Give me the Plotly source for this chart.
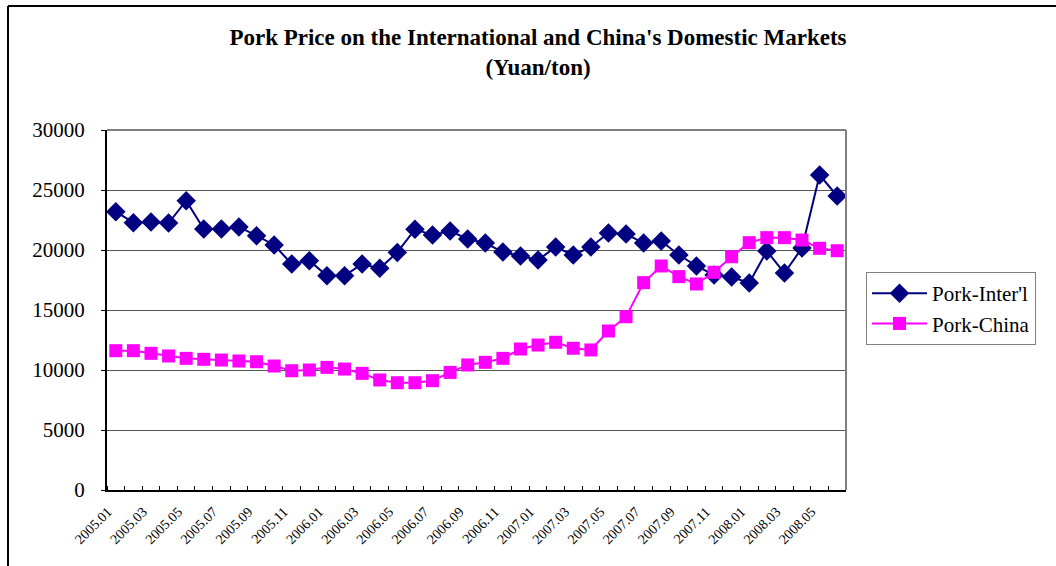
import plotly.graph_objects as go

months = [f"{y}.{m:02d}" for y in (2005, 2006, 2007) for m in range(1, 13)] + [f"2008.{m:02d}" for m in range(1, 7)]

pork_intl = [23190, 22280, 22330, 22250, 24110, 21750, 21750, 21920, 21190, 20420,
             18830, 19110, 17860, 17860, 18830, 18470, 19800, 21720, 21250, 21580,
             20920, 20580, 19830, 19500, 19170, 20250, 19580, 20250, 21420, 21330,
             20580, 20750, 19580, 18670, 17920, 17750, 17250, 19920, 18080, 20170,
             26250, 24500]

pork_china = [11610, 11610, 11390, 11170, 10970, 10890, 10830, 10750, 10690, 10330,
              9940, 10000, 10220, 10080, 9720, 9170, 8940, 8940, 9110, 9800,
              10420, 10640, 10970, 11750, 12080, 12310, 11810, 11670, 13250, 14440,
              17280, 18670, 17780, 17170, 18140, 19440, 20610, 21030, 21030, 20830,
              20140, 19940]

y_ticks = [0, 5000, 10000, 15000, 20000, 25000, 30000]

idx = list(range(len(months)))
font = "Liberation Serif, Times New Roman, serif"

fig = go.Figure()
fig.add_trace(go.Scatter(
    x=idx, y=pork_intl, name="Pork-Inter'l", mode="lines+markers",
    line=dict(color="#000080", width=2),
    marker=dict(symbol="diamond", size=15, color="#000080"),
))
fig.add_trace(go.Scatter(
    x=idx, y=pork_china, name="Pork-China", mode="lines+markers",
    line=dict(color="#FF00FF", width=2),
    marker=dict(symbol="square", size=13, color="#FF00FF"),
))

L, R, T, B = 107, 846, 130, 490
W, H = 1056, 566
pw, ph = R - L, B - T

fig.update_layout(
    width=W, height=H,
    margin=dict(l=L, r=W - R, t=T, b=H - B),
    paper_bgcolor="white", plot_bgcolor="white",
    font=dict(family=font, color="black"),
    title=dict(
        text="<b>Pork Price on the International and China's Domestic Markets</b><br><b>(Yuan/ton)</b>",
        x=538 / W, xanchor="center", y=1 - 45 / H, yanchor="top",
        font=dict(size=23, family=font),
    ),
    showlegend=True,
    legend=dict(
        x=(866 - L) / pw, y=(B - 272) / ph, xanchor="left", yanchor="top",
        bordercolor="#808080", borderwidth=1, bgcolor="white",
        font=dict(size=21, family=font), tracegroupgap=2, itemwidth=55,
        entrywidth=178,
    ),
    xaxis=dict(
        range=[-0.5, len(months) - 0.5],
        tickmode="array", tickvals=idx[::2], ticktext=months[::2],
        tickangle=-45, tickfont=dict(size=14, family=font),
        ticks="", showgrid=False, zeroline=False,
        ticklabelshift=-8, ticklabelstandoff=6,
        showline=True, linecolor="black", linewidth=2,
        minor=dict(tickmode="array", tickvals=[i - 0.5 for i in range(len(months) + 1)],
                   ticks="inside", ticklen=4, tickcolor="black", showgrid=False),
    ),
    yaxis=dict(
        range=[0, 30000], tickvals=y_ticks, tickformat="d",
        tickfont=dict(size=21, family=font),
        ticks="outside", ticklen=4, tickcolor="black", ticklabelstandoff=12,
        showgrid=True, gridcolor="#555555", gridwidth=1,
        zeroline=False, showline=True, linecolor="black", linewidth=2,
    ),
)

# gray top/right plot border
fig.add_shape(type="line", xref="paper", yref="paper", x0=0, x1=1, y0=1, y1=1,
              line=dict(color="#808080", width=2))
fig.add_shape(type="line", xref="paper", yref="paper", x0=1, x1=1, y0=0, y1=1,
              line=dict(color="#808080", width=2))
# outer chart border (left and top edges visible)
fig.add_shape(type="line", xref="paper", yref="paper",
              x0=(8 - L) / pw, x1=(8 - L) / pw, y0=(B - H - 5) / ph, y1=(B - 6) / ph,
              line=dict(color="black", width=2))
fig.add_shape(type="line", xref="paper", yref="paper",
              x0=(8 - L) / pw, x1=(W + 5 - L) / pw, y0=(B - 6) / ph, y1=(B - 6) / ph,
              line=dict(color="black", width=2))

fig.write_html("out.html", config={"displayModeBar": False},
               post_script="document.body.style.margin='0';")
